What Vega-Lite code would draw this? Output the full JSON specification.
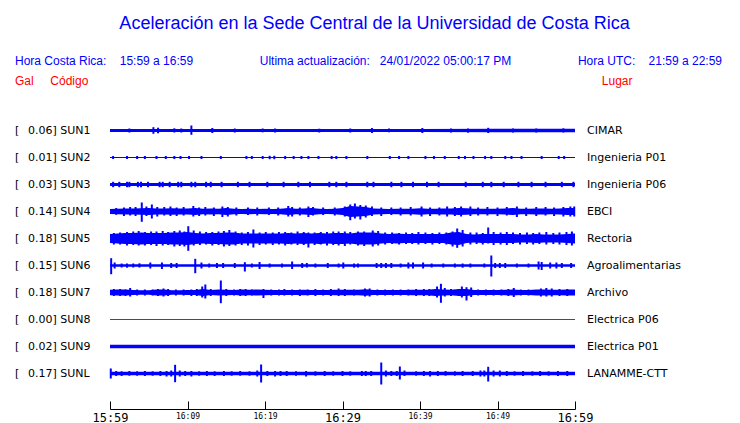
{
"$schema":"https://vega.github.io/schema/vega-lite/v6.json",
"padding":{"left":15,"top":15,"right":5,"bottom":0},
"background":"white",
"title":{"text":"Aceleración en la Sede Central de la Universidad de Costa Rica","font":"Liberation Sans","fontSize":18,"fontWeight":"normal","color":"#0000ff","anchor":"middle","frame":"bounds","dx":6,"offset":22},
"datasets":{
"st":[
{"s":"SUN1","gal":0.06,"lugar":"CIMAR"},
{"s":"SUN2","gal":0.01,"lugar":"Ingenieria P01"},
{"s":"SUN3","gal":0.03,"lugar":"Ingenieria P06"},
{"s":"SUN4","gal":0.14,"lugar":"EBCI"},
{"s":"SUN5","gal":0.18,"lugar":"Rectoria"},
{"s":"SUN6","gal":0.15,"lugar":"Agroalimentarias"},
{"s":"SUN7","gal":0.18,"lugar":"Archivo"},
{"s":"SUN8","gal":0.00,"lugar":"Electrica P06"},
{"s":"SUN9","gal":0.02,"lugar":"Electrica P01"},
{"s":"SUNL","gal":0.17,"lugar":"LANAMME-CTT"}
],
"tr":[
{"s":"SUN1","k":"e","t":0,"lo":-1.5,"hi":1.5},{"s":"SUN1","k":"e","t":10,"lo":-1.5,"hi":1.5},{"s":"SUN1","k":"e","t":20,"lo":-1.5,"hi":1.5},{"s":"SUN1","k":"e","t":30,"lo":-1.5,"hi":1.5},{"s":"SUN1","k":"e","t":40,"lo":-1.6,"hi":1.6},{"s":"SUN1","k":"e","t":50,"lo":-1.7,"hi":1.7},{"s":"SUN1","k":"e","t":60,"lo":-1.7,"hi":1.7},
{"s":"SUN1","k":"p","t":2.5,"lo":-2,"hi":2},{"s":"SUN1","k":"p","t":5.6,"lo":-3.3,"hi":3.3},{"s":"SUN1","k":"p","t":6.2,"lo":-2.8,"hi":2.8},{"s":"SUN1","k":"p","t":8.3,"lo":-2,"hi":2.2},{"s":"SUN1","k":"p","t":9.2,"lo":-2,"hi":2},{"s":"SUN1","k":"p","t":10.5,"lo":-4.3,"hi":5},{"s":"SUN1","k":"p","t":13.2,"lo":-2.5,"hi":2.5},{"s":"SUN1","k":"p","t":16.1,"lo":-2,"hi":2},{"s":"SUN1","k":"p","t":19.7,"lo":-1.8,"hi":2},{"s":"SUN1","k":"p","t":21.3,"lo":-2,"hi":2},{"s":"SUN1","k":"p","t":27,"lo":-2,"hi":1.8},{"s":"SUN1","k":"p","t":31,"lo":-2,"hi":2},{"s":"SUN1","k":"p","t":33.8,"lo":-2.5,"hi":2.5},{"s":"SUN1","k":"p","t":36,"lo":-1.8,"hi":2},{"s":"SUN1","k":"p","t":40.3,"lo":-2.5,"hi":2.5},{"s":"SUN1","k":"p","t":44,"lo":-2,"hi":2},{"s":"SUN1","k":"p","t":46.2,"lo":-2.2,"hi":2},{"s":"SUN1","k":"p","t":48.8,"lo":-2.5,"hi":2.7},{"s":"SUN1","k":"p","t":52,"lo":-2,"hi":2},{"s":"SUN1","k":"p","t":55,"lo":-2,"hi":2},{"s":"SUN1","k":"p","t":58.5,"lo":-2,"hi":2.2},
{"s":"SUN2","k":"e","t":0,"lo":-0.5,"hi":0.5},{"s":"SUN2","k":"e","t":60,"lo":-0.5,"hi":0.5},
{"s":"SUN2","k":"p","t":0.4,"lo":-1.5,"hi":1.5},{"s":"SUN2","k":"p","t":2.2,"lo":-1.5,"hi":1.5},{"s":"SUN2","k":"p","t":3.5,"lo":-1.5,"hi":1.5},{"s":"SUN2","k":"p","t":4.5,"lo":-1.5,"hi":1.5},{"s":"SUN2","k":"p","t":6,"lo":-1.5,"hi":1.5},{"s":"SUN2","k":"p","t":7.2,"lo":-1.5,"hi":1.5},{"s":"SUN2","k":"p","t":8.3,"lo":-1.5,"hi":1.5},{"s":"SUN2","k":"p","t":9.1,"lo":-1.5,"hi":1.5},{"s":"SUN2","k":"p","t":10.2,"lo":-1.5,"hi":1.5},{"s":"SUN2","k":"p","t":11.8,"lo":-1.5,"hi":1.5},{"s":"SUN2","k":"p","t":14.3,"lo":-1.5,"hi":1.5},{"s":"SUN2","k":"p","t":17.6,"lo":-1.5,"hi":1.5},{"s":"SUN2","k":"p","t":18.3,"lo":-1.5,"hi":1.5},{"s":"SUN2","k":"p","t":19.7,"lo":-1.5,"hi":1.5},{"s":"SUN2","k":"p","t":20.6,"lo":-1.7,"hi":1.7},{"s":"SUN2","k":"p","t":21.2,"lo":-1.7,"hi":1.7},{"s":"SUN2","k":"p","t":22.6,"lo":-1.5,"hi":1.5},{"s":"SUN2","k":"p","t":23.7,"lo":-1.5,"hi":1.5},{"s":"SUN2","k":"p","t":24.7,"lo":-1.5,"hi":1.5},{"s":"SUN2","k":"p","t":25.6,"lo":-1.5,"hi":1.5},{"s":"SUN2","k":"p","t":26.9,"lo":-1.5,"hi":1.5},{"s":"SUN2","k":"p","t":28.6,"lo":-1.5,"hi":1.5},{"s":"SUN2","k":"p","t":29.2,"lo":-1.5,"hi":1.5},{"s":"SUN2","k":"p","t":30.5,"lo":-1.5,"hi":1.5},{"s":"SUN2","k":"p","t":33.2,"lo":-1.5,"hi":1.5},{"s":"SUN2","k":"p","t":36.1,"lo":-1.5,"hi":1.5},{"s":"SUN2","k":"p","t":37.3,"lo":-1.5,"hi":1.5},{"s":"SUN2","k":"p","t":38.5,"lo":-1.5,"hi":1.5},{"s":"SUN2","k":"p","t":40.7,"lo":-1.5,"hi":1.5},{"s":"SUN2","k":"p","t":41.8,"lo":-1.5,"hi":1.5},{"s":"SUN2","k":"p","t":43.2,"lo":-1.5,"hi":1.5},{"s":"SUN2","k":"p","t":45,"lo":-1.5,"hi":1.5},{"s":"SUN2","k":"p","t":45.8,"lo":-1.5,"hi":1.5},{"s":"SUN2","k":"p","t":46.9,"lo":-1.5,"hi":1.5},{"s":"SUN2","k":"p","t":48.4,"lo":-1.5,"hi":1.5},{"s":"SUN2","k":"p","t":49.2,"lo":-1.5,"hi":1.5},{"s":"SUN2","k":"p","t":51,"lo":-1.5,"hi":1.5},{"s":"SUN2","k":"p","t":51.8,"lo":-1.5,"hi":1.5},{"s":"SUN2","k":"p","t":53.1,"lo":-1.5,"hi":1.5},{"s":"SUN2","k":"p","t":55.7,"lo":-1.5,"hi":1.5},{"s":"SUN2","k":"p","t":57.9,"lo":-1.5,"hi":1.5},{"s":"SUN2","k":"p","t":58.6,"lo":-1.5,"hi":1.5},
{"s":"SUN3","k":"e","t":0,"lo":-1.5,"hi":1.5},{"s":"SUN3","k":"e","t":60,"lo":-1.5,"hi":1.5},
{"s":"SUN3","k":"p","t":0.4,"lo":-2.7,"hi":2.7},{"s":"SUN3","k":"p","t":1.2,"lo":-2.7,"hi":2.7},{"s":"SUN3","k":"p","t":2.2,"lo":-2.7,"hi":2.7},{"s":"SUN3","k":"p","t":2.5,"lo":-2.7,"hi":2.7},{"s":"SUN3","k":"p","t":3.6,"lo":-2.7,"hi":2.7},{"s":"SUN3","k":"p","t":4,"lo":-2.7,"hi":2.7},{"s":"SUN3","k":"p","t":4.9,"lo":-2.7,"hi":2.7},{"s":"SUN3","k":"p","t":6.4,"lo":-2.7,"hi":2.7},{"s":"SUN3","k":"p","t":6.8,"lo":-2.7,"hi":2.7},{"s":"SUN3","k":"p","t":7.7,"lo":-2.7,"hi":2.7},{"s":"SUN3","k":"p","t":8.8,"lo":-2.7,"hi":2.7},{"s":"SUN3","k":"p","t":9.2,"lo":-2.7,"hi":2.7},{"s":"SUN3","k":"p","t":10.5,"lo":-2.7,"hi":2.7},{"s":"SUN3","k":"p","t":11,"lo":-2.7,"hi":2.7},{"s":"SUN3","k":"p","t":12.4,"lo":-2.7,"hi":2.7},{"s":"SUN3","k":"p","t":13,"lo":-2.7,"hi":2.7},{"s":"SUN3","k":"p","t":14.4,"lo":-2.7,"hi":2.7},{"s":"SUN3","k":"p","t":16.5,"lo":-2.7,"hi":2.7},{"s":"SUN3","k":"p","t":18,"lo":-2.7,"hi":2.7},{"s":"SUN3","k":"p","t":20.3,"lo":-2.7,"hi":2.7},{"s":"SUN3","k":"p","t":22.4,"lo":-2.7,"hi":2.7},{"s":"SUN3","k":"p","t":24.3,"lo":-2.7,"hi":2.7},{"s":"SUN3","k":"p","t":25.8,"lo":-2.7,"hi":2.7},{"s":"SUN3","k":"p","t":28.3,"lo":-2.7,"hi":2.7},{"s":"SUN3","k":"p","t":29.2,"lo":-2.7,"hi":2.7},{"s":"SUN3","k":"p","t":30.5,"lo":-2.7,"hi":2.7},{"s":"SUN3","k":"p","t":33.2,"lo":-2.7,"hi":2.7},{"s":"SUN3","k":"p","t":34,"lo":-2.7,"hi":2.7},{"s":"SUN3","k":"p","t":36.3,"lo":-2.7,"hi":2.7},{"s":"SUN3","k":"p","t":37.6,"lo":-2.7,"hi":2.7},{"s":"SUN3","k":"p","t":39.1,"lo":-2.7,"hi":2.7},{"s":"SUN3","k":"p","t":40.9,"lo":-2.7,"hi":2.7},{"s":"SUN3","k":"p","t":42.4,"lo":-2.7,"hi":2.7},{"s":"SUN3","k":"p","t":45.9,"lo":-2.7,"hi":2.7},{"s":"SUN3","k":"p","t":48.1,"lo":-2.7,"hi":2.7},{"s":"SUN3","k":"p","t":49.2,"lo":-2.7,"hi":2.7},{"s":"SUN3","k":"p","t":50.8,"lo":-2.7,"hi":2.7},{"s":"SUN3","k":"p","t":52.7,"lo":-2.7,"hi":2.7},{"s":"SUN3","k":"p","t":54.4,"lo":-2.7,"hi":2.7},{"s":"SUN3","k":"p","t":56.2,"lo":-2.7,"hi":2.7},{"s":"SUN3","k":"p","t":58.3,"lo":-2.7,"hi":2.7},{"s":"SUN3","k":"p","t":59.8,"lo":-2.7,"hi":2.7},
{"s":"SUN4","k":"e","t":0,"lo":-2.5,"hi":2.5},{"s":"SUN4","k":"e","t":1,"lo":-2.7,"hi":2.7},{"s":"SUN4","k":"e","t":2,"lo":-3,"hi":3},{"s":"SUN4","k":"e","t":3,"lo":-3,"hi":3},{"s":"SUN4","k":"e","t":4,"lo":-3.2,"hi":3.2},{"s":"SUN4","k":"e","t":5,"lo":-3.5,"hi":3.5},{"s":"SUN4","k":"e","t":6,"lo":-3,"hi":3},{"s":"SUN4","k":"e","t":7,"lo":-3,"hi":3},{"s":"SUN4","k":"e","t":8,"lo":-3.2,"hi":3.2},{"s":"SUN4","k":"e","t":9,"lo":-3,"hi":3},{"s":"SUN4","k":"e","t":10,"lo":-3,"hi":3},{"s":"SUN4","k":"e","t":11,"lo":-3.5,"hi":3.5},{"s":"SUN4","k":"e","t":12,"lo":-2.8,"hi":2.8},{"s":"SUN4","k":"e","t":13,"lo":-3,"hi":3},{"s":"SUN4","k":"e","t":14,"lo":-2.8,"hi":2.8},{"s":"SUN4","k":"e","t":15,"lo":-3.5,"hi":3.5},{"s":"SUN4","k":"e","t":16,"lo":-2.7,"hi":2.7},{"s":"SUN4","k":"e","t":17,"lo":-2.5,"hi":2.5},{"s":"SUN4","k":"e","t":18,"lo":-2.7,"hi":2.7},{"s":"SUN4","k":"e","t":19,"lo":-2.5,"hi":2.5},{"s":"SUN4","k":"e","t":20,"lo":-2.7,"hi":2.7},{"s":"SUN4","k":"e","t":21,"lo":-2.5,"hi":2.5},{"s":"SUN4","k":"e","t":22,"lo":-2.7,"hi":2.7},{"s":"SUN4","k":"e","t":23,"lo":-3.5,"hi":3.5},{"s":"SUN4","k":"e","t":24,"lo":-2.8,"hi":2.8},{"s":"SUN4","k":"e","t":25,"lo":-3,"hi":3},{"s":"SUN4","k":"e","t":26,"lo":-3.5,"hi":3.5},{"s":"SUN4","k":"e","t":27,"lo":-2.7,"hi":2.7},{"s":"SUN4","k":"e","t":28,"lo":-2.5,"hi":2.5},{"s":"SUN4","k":"e","t":29,"lo":-2.8,"hi":2.8},{"s":"SUN4","k":"e","t":30,"lo":-3.5,"hi":3.5},{"s":"SUN4","k":"e","t":31,"lo":-5.5,"hi":5.5},{"s":"SUN4","k":"e","t":32,"lo":-5,"hi":5},{"s":"SUN4","k":"e","t":33,"lo":-4.5,"hi":4.5},{"s":"SUN4","k":"e","t":34,"lo":-3,"hi":3},{"s":"SUN4","k":"e","t":35,"lo":-2.7,"hi":2.7},{"s":"SUN4","k":"e","t":36,"lo":-2.5,"hi":2.5},{"s":"SUN4","k":"e","t":37,"lo":-2.7,"hi":2.7},{"s":"SUN4","k":"e","t":38,"lo":-2.7,"hi":2.7},{"s":"SUN4","k":"e","t":39,"lo":-2.8,"hi":2.8},{"s":"SUN4","k":"e","t":40,"lo":-3.2,"hi":3.2},{"s":"SUN4","k":"e","t":41,"lo":-2.8,"hi":2.8},{"s":"SUN4","k":"e","t":42,"lo":-2.7,"hi":2.7},{"s":"SUN4","k":"e","t":43,"lo":-3,"hi":3},{"s":"SUN4","k":"e","t":44,"lo":-3,"hi":3},{"s":"SUN4","k":"e","t":45,"lo":-3.5,"hi":3.5},{"s":"SUN4","k":"e","t":46,"lo":-3.2,"hi":3.2},{"s":"SUN4","k":"e","t":47,"lo":-2.8,"hi":2.8},{"s":"SUN4","k":"e","t":48,"lo":-2.7,"hi":2.7},{"s":"SUN4","k":"e","t":49,"lo":-2.8,"hi":2.8},{"s":"SUN4","k":"e","t":50,"lo":-2.8,"hi":2.8},{"s":"SUN4","k":"e","t":51,"lo":-3,"hi":3},{"s":"SUN4","k":"e","t":52,"lo":-3.5,"hi":3.5},{"s":"SUN4","k":"e","t":53,"lo":-2.8,"hi":2.8},{"s":"SUN4","k":"e","t":54,"lo":-2.8,"hi":2.8},{"s":"SUN4","k":"e","t":55,"lo":-3,"hi":3},{"s":"SUN4","k":"e","t":56,"lo":-3,"hi":3},{"s":"SUN4","k":"e","t":57,"lo":-2.8,"hi":2.8},{"s":"SUN4","k":"e","t":58,"lo":-3,"hi":3},{"s":"SUN4","k":"e","t":59,"lo":-3.5,"hi":3.5},{"s":"SUN4","k":"e","t":60,"lo":-3.5,"hi":3.5},
{"s":"SUN4","k":"p","t":0.8,"lo":-3.3,"hi":3.5},{"s":"SUN4","k":"p","t":1.8,"lo":-4.5,"hi":4},{"s":"SUN4","k":"p","t":2.6,"lo":-4,"hi":4.5},{"s":"SUN4","k":"p","t":3.3,"lo":-4.5,"hi":4.5},{"s":"SUN4","k":"p","t":4.1,"lo":-10.3,"hi":9},{"s":"SUN4","k":"p","t":4.7,"lo":-4.5,"hi":5},{"s":"SUN4","k":"p","t":5.4,"lo":-7,"hi":7},{"s":"SUN4","k":"p","t":6.1,"lo":-5,"hi":4.5},{"s":"SUN4","k":"p","t":7,"lo":-4,"hi":4.5},{"s":"SUN4","k":"p","t":7.8,"lo":-4.5,"hi":5},{"s":"SUN4","k":"p","t":8.6,"lo":-4.5,"hi":4},{"s":"SUN4","k":"p","t":9.5,"lo":-4,"hi":4.5},{"s":"SUN4","k":"p","t":10.75,"lo":-5,"hi":5.5},{"s":"SUN4","k":"p","t":11.5,"lo":-4.5,"hi":4},{"s":"SUN4","k":"p","t":12.3,"lo":-4,"hi":4.5},{"s":"SUN4","k":"p","t":13.4,"lo":-4.5,"hi":4},{"s":"SUN4","k":"p","t":14.5,"lo":-5.5,"hi":5},{"s":"SUN4","k":"p","t":15.2,"lo":-5,"hi":4.5},{"s":"SUN4","k":"p","t":16.3,"lo":-4,"hi":4},{"s":"SUN4","k":"p","t":17.8,"lo":-3.5,"hi":4},{"s":"SUN4","k":"p","t":19,"lo":-4,"hi":4},{"s":"SUN4","k":"p","t":20.5,"lo":-3.5,"hi":4},{"s":"SUN4","k":"p","t":21.7,"lo":-4,"hi":4},{"s":"SUN4","k":"p","t":23,"lo":-5,"hi":5.5},{"s":"SUN4","k":"p","t":23.5,"lo":-5,"hi":4.5},{"s":"SUN4","k":"p","t":24.5,"lo":-4,"hi":4},{"s":"SUN4","k":"p","t":25.6,"lo":-5.5,"hi":5},{"s":"SUN4","k":"p","t":26.2,"lo":-4,"hi":4.5},{"s":"SUN4","k":"p","t":27.5,"lo":-3.5,"hi":4},{"s":"SUN4","k":"p","t":29,"lo":-4,"hi":4},{"s":"SUN4","k":"p","t":30.3,"lo":-5,"hi":5},{"s":"SUN4","k":"p","t":31,"lo":-8.7,"hi":7},{"s":"SUN4","k":"p","t":31.6,"lo":-7,"hi":8},{"s":"SUN4","k":"p","t":32.3,"lo":-8,"hi":6.5},{"s":"SUN4","k":"p","t":33,"lo":-6,"hi":6},{"s":"SUN4","k":"p","t":33.8,"lo":-4.5,"hi":5},{"s":"SUN4","k":"p","t":35,"lo":-4.5,"hi":4},{"s":"SUN4","k":"p","t":36.3,"lo":-3.5,"hi":4},{"s":"SUN4","k":"p","t":37.5,"lo":-4,"hi":4},{"s":"SUN4","k":"p","t":38.8,"lo":-4,"hi":4.5},{"s":"SUN4","k":"p","t":40.2,"lo":-5,"hi":5},{"s":"SUN4","k":"p","t":41.3,"lo":-4.5,"hi":4},{"s":"SUN4","k":"p","t":42.5,"lo":-4,"hi":4},{"s":"SUN4","k":"p","t":43.5,"lo":-5,"hi":5},{"s":"SUN4","k":"p","t":44.5,"lo":-4.5,"hi":4.5},{"s":"SUN4","k":"p","t":45.3,"lo":-5,"hi":5},{"s":"SUN4","k":"p","t":46.5,"lo":-4.5,"hi":5},{"s":"SUN4","k":"p","t":47.5,"lo":-4,"hi":4},{"s":"SUN4","k":"p","t":48.7,"lo":-4,"hi":4.5},{"s":"SUN4","k":"p","t":50,"lo":-4.5,"hi":4},{"s":"SUN4","k":"p","t":51.2,"lo":-4,"hi":4.5},{"s":"SUN4","k":"p","t":52.5,"lo":-5.5,"hi":5},{"s":"SUN4","k":"p","t":53.7,"lo":-4.5,"hi":4},{"s":"SUN4","k":"p","t":55,"lo":-4.5,"hi":4.5},{"s":"SUN4","k":"p","t":56.2,"lo":-4,"hi":4.5},{"s":"SUN4","k":"p","t":57.3,"lo":-4.5,"hi":4},{"s":"SUN4","k":"p","t":58.5,"lo":-5,"hi":4.5},{"s":"SUN4","k":"p","t":59.4,"lo":-5,"hi":5},{"s":"SUN4","k":"p","t":59.9,"lo":-5,"hi":5},
{"s":"SUN5","k":"e","t":0,"lo":-4.5,"hi":4.5},{"s":"SUN5","k":"e","t":1,"lo":-5,"hi":5},{"s":"SUN5","k":"e","t":2,"lo":-5.5,"hi":5.5},{"s":"SUN5","k":"e","t":3,"lo":-5.5,"hi":5.5},{"s":"SUN5","k":"e","t":4,"lo":-6,"hi":6},{"s":"SUN5","k":"e","t":5,"lo":-5.5,"hi":5.5},{"s":"SUN5","k":"e","t":6,"lo":-5.5,"hi":5.5},{"s":"SUN5","k":"e","t":7,"lo":-5.5,"hi":5.5},{"s":"SUN5","k":"e","t":8,"lo":-6,"hi":6},{"s":"SUN5","k":"e","t":9,"lo":-6,"hi":6},{"s":"SUN5","k":"e","t":10,"lo":-6.5,"hi":6.5},{"s":"SUN5","k":"e","t":11,"lo":-5.5,"hi":5.5},{"s":"SUN5","k":"e","t":12,"lo":-5,"hi":5},{"s":"SUN5","k":"e","t":13,"lo":-5.5,"hi":5.5},{"s":"SUN5","k":"e","t":14,"lo":-5.5,"hi":5.5},{"s":"SUN5","k":"e","t":15,"lo":-6,"hi":6},{"s":"SUN5","k":"e","t":16,"lo":-6,"hi":6},{"s":"SUN5","k":"e","t":17,"lo":-5,"hi":5},{"s":"SUN5","k":"e","t":18,"lo":-5,"hi":5},{"s":"SUN5","k":"e","t":19,"lo":-5,"hi":5},{"s":"SUN5","k":"e","t":20,"lo":-5,"hi":5},{"s":"SUN5","k":"e","t":21,"lo":-5,"hi":5},{"s":"SUN5","k":"e","t":22,"lo":-5,"hi":5},{"s":"SUN5","k":"e","t":23,"lo":-5.5,"hi":5.5},{"s":"SUN5","k":"e","t":24,"lo":-5,"hi":5},{"s":"SUN5","k":"e","t":25,"lo":-5.5,"hi":5.5},{"s":"SUN5","k":"e","t":26,"lo":-5,"hi":5},{"s":"SUN5","k":"e","t":27,"lo":-5.5,"hi":5.5},{"s":"SUN5","k":"e","t":28,"lo":-5,"hi":5},{"s":"SUN5","k":"e","t":29,"lo":-5.5,"hi":5.5},{"s":"SUN5","k":"e","t":30,"lo":-5.5,"hi":5.5},{"s":"SUN5","k":"e","t":31,"lo":-5,"hi":5},{"s":"SUN5","k":"e","t":32,"lo":-6,"hi":6},{"s":"SUN5","k":"e","t":33,"lo":-6,"hi":6},{"s":"SUN5","k":"e","t":34,"lo":-6,"hi":6},{"s":"SUN5","k":"e","t":35,"lo":-5,"hi":5},{"s":"SUN5","k":"e","t":36,"lo":-4.5,"hi":4.5},{"s":"SUN5","k":"e","t":37,"lo":-5,"hi":5},{"s":"SUN5","k":"e","t":38,"lo":-4.5,"hi":4.5},{"s":"SUN5","k":"e","t":39,"lo":-4.5,"hi":4.5},{"s":"SUN5","k":"e","t":40,"lo":-4.5,"hi":4.5},{"s":"SUN5","k":"e","t":41,"lo":-4.5,"hi":4.5},{"s":"SUN5","k":"e","t":42,"lo":-4.5,"hi":4.5},{"s":"SUN5","k":"e","t":43,"lo":-4.5,"hi":4.5},{"s":"SUN5","k":"e","t":44,"lo":-6,"hi":6},{"s":"SUN5","k":"e","t":45,"lo":-6.5,"hi":6.5},{"s":"SUN5","k":"e","t":46,"lo":-4.5,"hi":4.5},{"s":"SUN5","k":"e","t":47,"lo":-4,"hi":4},{"s":"SUN5","k":"e","t":48,"lo":-4.5,"hi":4.5},{"s":"SUN5","k":"e","t":49,"lo":-4.5,"hi":4.5},{"s":"SUN5","k":"e","t":50,"lo":-4.5,"hi":4.5},{"s":"SUN5","k":"e","t":51,"lo":-4.5,"hi":4.5},{"s":"SUN5","k":"e","t":52,"lo":-4.5,"hi":4.5},{"s":"SUN5","k":"e","t":53,"lo":-4,"hi":4},{"s":"SUN5","k":"e","t":54,"lo":-4,"hi":4},{"s":"SUN5","k":"e","t":55,"lo":-4.5,"hi":4.5},{"s":"SUN5","k":"e","t":56,"lo":-4,"hi":4},{"s":"SUN5","k":"e","t":57,"lo":-4,"hi":4},{"s":"SUN5","k":"e","t":58,"lo":-4,"hi":4},{"s":"SUN5","k":"e","t":59,"lo":-4.5,"hi":4.5},{"s":"SUN5","k":"e","t":60,"lo":-5,"hi":5},
{"s":"SUN5","k":"p","t":0.5,"lo":-6,"hi":5.5},{"s":"SUN5","k":"p","t":1.3,"lo":-6,"hi":6},{"s":"SUN5","k":"p","t":2.2,"lo":-7,"hi":6.5},{"s":"SUN5","k":"p","t":3,"lo":-6.5,"hi":7},{"s":"SUN5","k":"p","t":3.7,"lo":-7,"hi":7.5},{"s":"SUN5","k":"p","t":4.5,"lo":-7,"hi":6.5},{"s":"SUN5","k":"p","t":5.3,"lo":-6.5,"hi":7},{"s":"SUN5","k":"p","t":6,"lo":-7.5,"hi":7},{"s":"SUN5","k":"p","t":6.8,"lo":-7,"hi":7.5},{"s":"SUN5","k":"p","t":7.5,"lo":-6.5,"hi":6.5},{"s":"SUN5","k":"p","t":8.3,"lo":-8,"hi":7.5},{"s":"SUN5","k":"p","t":9,"lo":-7.5,"hi":8},{"s":"SUN5","k":"p","t":9.6,"lo":-8,"hi":7},{"s":"SUN5","k":"p","t":10.1,"lo":-12.3,"hi":12.3},{"s":"SUN5","k":"p","t":10.8,"lo":-7,"hi":8},{"s":"SUN5","k":"p","t":11.6,"lo":-6.5,"hi":7},{"s":"SUN5","k":"p","t":12.4,"lo":-6,"hi":6.5},{"s":"SUN5","k":"p","t":13.2,"lo":-7,"hi":6.5},{"s":"SUN5","k":"p","t":14,"lo":-6.5,"hi":7},{"s":"SUN5","k":"p","t":14.7,"lo":-8,"hi":7.5},{"s":"SUN5","k":"p","t":15.4,"lo":-7.5,"hi":8.5},{"s":"SUN5","k":"p","t":16.2,"lo":-7,"hi":7},{"s":"SUN5","k":"p","t":17,"lo":-6.5,"hi":6},{"s":"SUN5","k":"p","t":17.8,"lo":-7,"hi":6.5},{"s":"SUN5","k":"p","t":18.5,"lo":-9,"hi":9},{"s":"SUN5","k":"p","t":19.3,"lo":-6.5,"hi":6},{"s":"SUN5","k":"p","t":20.1,"lo":-6,"hi":6.5},{"s":"SUN5","k":"p","t":21,"lo":-6.5,"hi":6},{"s":"SUN5","k":"p","t":21.8,"lo":-6,"hi":6.5},{"s":"SUN5","k":"p","t":22.6,"lo":-7,"hi":6.5},{"s":"SUN5","k":"p","t":23.4,"lo":-6,"hi":6},{"s":"SUN5","k":"p","t":24.2,"lo":-6.5,"hi":7},{"s":"SUN5","k":"p","t":25,"lo":-6.5,"hi":6.5},{"s":"SUN5","k":"p","t":25.6,"lo":-9,"hi":6},{"s":"SUN5","k":"p","t":26.4,"lo":-6.5,"hi":6},{"s":"SUN5","k":"p","t":27.2,"lo":-6,"hi":6.5},{"s":"SUN5","k":"p","t":28,"lo":-7,"hi":6.5},{"s":"SUN5","k":"p","t":28.8,"lo":-6.5,"hi":7},{"s":"SUN5","k":"p","t":29.5,"lo":-7,"hi":7},{"s":"SUN5","k":"p","t":30.3,"lo":-7.5,"hi":7},{"s":"SUN5","k":"p","t":31,"lo":-6,"hi":6.5},{"s":"SUN5","k":"p","t":32,"lo":-7,"hi":7},{"s":"SUN5","k":"p","t":32.8,"lo":-7.5,"hi":7},{"s":"SUN5","k":"p","t":33.9,"lo":-8,"hi":8},{"s":"SUN5","k":"p","t":34.6,"lo":-7,"hi":7.5},{"s":"SUN5","k":"p","t":35.5,"lo":-6,"hi":6},{"s":"SUN5","k":"p","t":36.4,"lo":-5.5,"hi":6},{"s":"SUN5","k":"p","t":37.3,"lo":-6,"hi":5.5},{"s":"SUN5","k":"p","t":38.2,"lo":-5.5,"hi":6},{"s":"SUN5","k":"p","t":39,"lo":-5.5,"hi":5.5},{"s":"SUN5","k":"p","t":39.8,"lo":-6,"hi":6.5},{"s":"SUN5","k":"p","t":40.7,"lo":-5.5,"hi":6},{"s":"SUN5","k":"p","t":41.6,"lo":-6,"hi":5.5},{"s":"SUN5","k":"p","t":42.5,"lo":-5.5,"hi":6},{"s":"SUN5","k":"p","t":43.4,"lo":-6,"hi":6},{"s":"SUN5","k":"p","t":44.2,"lo":-8,"hi":7},{"s":"SUN5","k":"p","t":44.8,"lo":-9.3,"hi":10},{"s":"SUN5","k":"p","t":45.5,"lo":-8,"hi":8.5},{"s":"SUN5","k":"p","t":46.5,"lo":-6,"hi":6},{"s":"SUN5","k":"p","t":47.3,"lo":-5.5,"hi":6},{"s":"SUN5","k":"p","t":48.1,"lo":-6,"hi":5.5},{"s":"SUN5","k":"p","t":48.8,"lo":-5,"hi":11},{"s":"SUN5","k":"p","t":49.5,"lo":-6.5,"hi":6.5},{"s":"SUN5","k":"p","t":50.4,"lo":-6,"hi":6},{"s":"SUN5","k":"p","t":51.2,"lo":-6.5,"hi":6.5},{"s":"SUN5","k":"p","t":52,"lo":-5.5,"hi":6},{"s":"SUN5","k":"p","t":52.9,"lo":-6,"hi":5.5},{"s":"SUN5","k":"p","t":53.8,"lo":-5.5,"hi":6},{"s":"SUN5","k":"p","t":54.6,"lo":-6,"hi":5.5},{"s":"SUN5","k":"p","t":55.4,"lo":-5.5,"hi":6},{"s":"SUN5","k":"p","t":56.3,"lo":-6,"hi":6.5},{"s":"SUN5","k":"p","t":57.2,"lo":-5.5,"hi":5.5},{"s":"SUN5","k":"p","t":58,"lo":-6,"hi":6},{"s":"SUN5","k":"p","t":58.9,"lo":-6.5,"hi":6.5},{"s":"SUN5","k":"p","t":59.6,"lo":-7,"hi":7},
{"s":"SUN6","k":"e","t":0,"lo":-1.3,"hi":1.3},{"s":"SUN6","k":"e","t":60,"lo":-1.3,"hi":1.3},
{"s":"SUN6","k":"p","t":0.15,"lo":-8.7,"hi":7.3},{"s":"SUN6","k":"p","t":0.6,"lo":-3,"hi":3},{"s":"SUN6","k":"p","t":1.5,"lo":-2,"hi":2},{"s":"SUN6","k":"p","t":2.2,"lo":-2.2,"hi":2},{"s":"SUN6","k":"p","t":3,"lo":-2,"hi":2},{"s":"SUN6","k":"p","t":3.8,"lo":-2,"hi":2.2},{"s":"SUN6","k":"p","t":5.2,"lo":-3,"hi":3},{"s":"SUN6","k":"p","t":6.7,"lo":-3.5,"hi":3},{"s":"SUN6","k":"p","t":7.9,"lo":-2.5,"hi":2.5},{"s":"SUN6","k":"p","t":8.6,"lo":-2.5,"hi":2.5},{"s":"SUN6","k":"p","t":11,"lo":-7.7,"hi":6.7},{"s":"SUN6","k":"p","t":11.8,"lo":-3,"hi":3},{"s":"SUN6","k":"p","t":12.8,"lo":-2,"hi":2},{"s":"SUN6","k":"p","t":13.8,"lo":-2.5,"hi":2.5},{"s":"SUN6","k":"p","t":14.6,"lo":-2.5,"hi":2.5},{"s":"SUN6","k":"p","t":16.1,"lo":-2.5,"hi":2.5},{"s":"SUN6","k":"p","t":17.4,"lo":-6,"hi":3.3},{"s":"SUN6","k":"p","t":18.3,"lo":-2,"hi":2},{"s":"SUN6","k":"p","t":19.3,"lo":-3.5,"hi":3.5},{"s":"SUN6","k":"p","t":20.6,"lo":-2,"hi":2},{"s":"SUN6","k":"p","t":22.2,"lo":-2,"hi":2},{"s":"SUN6","k":"p","t":23.5,"lo":-3.5,"hi":4},{"s":"SUN6","k":"p","t":24.8,"lo":-2.5,"hi":2.5},{"s":"SUN6","k":"p","t":25.4,"lo":-2,"hi":2.5},{"s":"SUN6","k":"p","t":26.5,"lo":-2,"hi":2},{"s":"SUN6","k":"p","t":28.1,"lo":-2.5,"hi":2.5},{"s":"SUN6","k":"p","t":29.5,"lo":-2,"hi":2},{"s":"SUN6","k":"p","t":30.1,"lo":-3,"hi":3},{"s":"SUN6","k":"p","t":31.5,"lo":-2.2,"hi":2},{"s":"SUN6","k":"p","t":32,"lo":-2,"hi":2},{"s":"SUN6","k":"p","t":34.4,"lo":-2.5,"hi":2.5},{"s":"SUN6","k":"p","t":35,"lo":-2.5,"hi":2.5},{"s":"SUN6","k":"p","t":35.6,"lo":-2.5,"hi":2.5},{"s":"SUN6","k":"p","t":36.3,"lo":-2.5,"hi":2.5},{"s":"SUN6","k":"p","t":37.5,"lo":-2,"hi":2},{"s":"SUN6","k":"p","t":38.5,"lo":-3,"hi":3},{"s":"SUN6","k":"p","t":39.1,"lo":-3,"hi":3},{"s":"SUN6","k":"p","t":40.4,"lo":-3,"hi":3},{"s":"SUN6","k":"p","t":41.5,"lo":-2,"hi":2},{"s":"SUN6","k":"p","t":43,"lo":-2,"hi":2},{"s":"SUN6","k":"p","t":44.5,"lo":-2,"hi":2},{"s":"SUN6","k":"p","t":45.5,"lo":-2.2,"hi":2},{"s":"SUN6","k":"p","t":46.5,"lo":-2,"hi":2},{"s":"SUN6","k":"p","t":48.3,"lo":-2,"hi":2},{"s":"SUN6","k":"p","t":49.2,"lo":-11,"hi":10},{"s":"SUN6","k":"p","t":49.7,"lo":-2.5,"hi":2.5},{"s":"SUN6","k":"p","t":50.3,"lo":-2.5,"hi":2.5},{"s":"SUN6","k":"p","t":51,"lo":-2.5,"hi":2.5},{"s":"SUN6","k":"p","t":52.5,"lo":-2,"hi":2},{"s":"SUN6","k":"p","t":54,"lo":-2,"hi":2},{"s":"SUN6","k":"p","t":55.3,"lo":-4,"hi":4},{"s":"SUN6","k":"p","t":55.7,"lo":-4.5,"hi":3.5},{"s":"SUN6","k":"p","t":56.8,"lo":-3,"hi":3},{"s":"SUN6","k":"p","t":57.6,"lo":-3,"hi":3},{"s":"SUN6","k":"p","t":58.3,"lo":-2.5,"hi":2.5},{"s":"SUN6","k":"p","t":59.5,"lo":-2.5,"hi":2.5},
{"s":"SUN7","k":"e","t":0,"lo":-2.8,"hi":2.8},{"s":"SUN7","k":"e","t":1,"lo":-3,"hi":3},{"s":"SUN7","k":"e","t":2,"lo":-3,"hi":3},{"s":"SUN7","k":"e","t":3,"lo":-2.5,"hi":2.5},{"s":"SUN7","k":"e","t":4,"lo":-2.3,"hi":2.3},{"s":"SUN7","k":"e","t":5,"lo":-2.3,"hi":2.3},{"s":"SUN7","k":"e","t":6,"lo":-3,"hi":3},{"s":"SUN7","k":"e","t":7,"lo":-3,"hi":3},{"s":"SUN7","k":"e","t":8,"lo":-2.3,"hi":2.3},{"s":"SUN7","k":"e","t":9,"lo":-2.3,"hi":2.3},{"s":"SUN7","k":"e","t":10,"lo":-2.5,"hi":2.5},{"s":"SUN7","k":"e","t":11,"lo":-2.5,"hi":2.5},{"s":"SUN7","k":"e","t":12,"lo":-3.5,"hi":3.5},{"s":"SUN7","k":"e","t":13,"lo":-2.5,"hi":2.5},{"s":"SUN7","k":"e","t":14,"lo":-3,"hi":3},{"s":"SUN7","k":"e","t":15,"lo":-2.8,"hi":2.8},{"s":"SUN7","k":"e","t":16,"lo":-2.5,"hi":2.5},{"s":"SUN7","k":"e","t":17,"lo":-3,"hi":3},{"s":"SUN7","k":"e","t":18,"lo":-2.8,"hi":2.8},{"s":"SUN7","k":"e","t":19,"lo":-3,"hi":3},{"s":"SUN7","k":"e","t":20,"lo":-2.8,"hi":2.8},{"s":"SUN7","k":"e","t":21,"lo":-2.5,"hi":2.5},{"s":"SUN7","k":"e","t":22,"lo":-2.5,"hi":2.5},{"s":"SUN7","k":"e","t":23,"lo":-2.5,"hi":2.5},{"s":"SUN7","k":"e","t":24,"lo":-2.5,"hi":2.5},{"s":"SUN7","k":"e","t":25,"lo":-2.8,"hi":2.8},{"s":"SUN7","k":"e","t":26,"lo":-2.5,"hi":2.5},{"s":"SUN7","k":"e","t":27,"lo":-2.5,"hi":2.5},{"s":"SUN7","k":"e","t":28,"lo":-2.5,"hi":2.5},{"s":"SUN7","k":"e","t":29,"lo":-2.8,"hi":2.8},{"s":"SUN7","k":"e","t":30,"lo":-2.8,"hi":2.8},{"s":"SUN7","k":"e","t":31,"lo":-2.8,"hi":2.8},{"s":"SUN7","k":"e","t":32,"lo":-2.8,"hi":2.8},{"s":"SUN7","k":"e","t":33,"lo":-3.2,"hi":3.2},{"s":"SUN7","k":"e","t":34,"lo":-2.5,"hi":2.5},{"s":"SUN7","k":"e","t":35,"lo":-2.5,"hi":2.5},{"s":"SUN7","k":"e","t":36,"lo":-2.5,"hi":2.5},{"s":"SUN7","k":"e","t":37,"lo":-2.5,"hi":2.5},{"s":"SUN7","k":"e","t":38,"lo":-2.5,"hi":2.5},{"s":"SUN7","k":"e","t":39,"lo":-2.8,"hi":2.8},{"s":"SUN7","k":"e","t":40,"lo":-2.8,"hi":2.8},{"s":"SUN7","k":"e","t":41,"lo":-2.8,"hi":2.8},{"s":"SUN7","k":"e","t":42,"lo":-3.5,"hi":3.5},{"s":"SUN7","k":"e","t":43,"lo":-3,"hi":3},{"s":"SUN7","k":"e","t":44,"lo":-2.8,"hi":2.8},{"s":"SUN7","k":"e","t":45,"lo":-3.5,"hi":3.5},{"s":"SUN7","k":"e","t":46,"lo":-3.5,"hi":3.5},{"s":"SUN7","k":"e","t":47,"lo":-2.5,"hi":2.5},{"s":"SUN7","k":"e","t":48,"lo":-2.5,"hi":2.5},{"s":"SUN7","k":"e","t":49,"lo":-2.5,"hi":2.5},{"s":"SUN7","k":"e","t":50,"lo":-2.5,"hi":2.5},{"s":"SUN7","k":"e","t":51,"lo":-2.8,"hi":2.8},{"s":"SUN7","k":"e","t":52,"lo":-3,"hi":3},{"s":"SUN7","k":"e","t":53,"lo":-2.5,"hi":2.5},{"s":"SUN7","k":"e","t":54,"lo":-2.5,"hi":2.5},{"s":"SUN7","k":"e","t":55,"lo":-3,"hi":3},{"s":"SUN7","k":"e","t":56,"lo":-3,"hi":3},{"s":"SUN7","k":"e","t":57,"lo":-2.8,"hi":2.8},{"s":"SUN7","k":"e","t":58,"lo":-2.8,"hi":2.8},{"s":"SUN7","k":"e","t":59,"lo":-3,"hi":3},{"s":"SUN7","k":"e","t":60,"lo":-3,"hi":3},
{"s":"SUN7","k":"p","t":0.5,"lo":-3.5,"hi":3.5},{"s":"SUN7","k":"p","t":1.3,"lo":-3.5,"hi":3.5},{"s":"SUN7","k":"p","t":2,"lo":-3.5,"hi":3},{"s":"SUN7","k":"p","t":2.6,"lo":-4,"hi":4.5},{"s":"SUN7","k":"p","t":3.5,"lo":-3,"hi":3},{"s":"SUN7","k":"p","t":4.5,"lo":-3,"hi":3},{"s":"SUN7","k":"p","t":5.5,"lo":-3,"hi":3},{"s":"SUN7","k":"p","t":6.2,"lo":-3.5,"hi":3.5},{"s":"SUN7","k":"p","t":6.9,"lo":-4,"hi":4},{"s":"SUN7","k":"p","t":7.5,"lo":-3.5,"hi":3.5},{"s":"SUN7","k":"p","t":8.5,"lo":-3,"hi":3},{"s":"SUN7","k":"p","t":9.5,"lo":-3,"hi":3},{"s":"SUN7","k":"p","t":10.5,"lo":-3.5,"hi":3},{"s":"SUN7","k":"p","t":11.2,"lo":-3.5,"hi":3.5},{"s":"SUN7","k":"p","t":11.9,"lo":-5,"hi":6},{"s":"SUN7","k":"p","t":12.3,"lo":-6,"hi":8},{"s":"SUN7","k":"p","t":13,"lo":-3.5,"hi":3.5},{"s":"SUN7","k":"p","t":14.3,"lo":-10.7,"hi":12},{"s":"SUN7","k":"p","t":15,"lo":-3.5,"hi":3.5},{"s":"SUN7","k":"p","t":16,"lo":-3,"hi":3},{"s":"SUN7","k":"p","t":16.8,"lo":-3.5,"hi":3.5},{"s":"SUN7","k":"p","t":17.5,"lo":-3.5,"hi":3.5},{"s":"SUN7","k":"p","t":18.3,"lo":-3,"hi":3},{"s":"SUN7","k":"p","t":19.8,"lo":-5.5,"hi":3.5},{"s":"SUN7","k":"p","t":20.8,"lo":-3,"hi":3},{"s":"SUN7","k":"p","t":21.8,"lo":-3,"hi":3},{"s":"SUN7","k":"p","t":22.5,"lo":-3,"hi":3.5},{"s":"SUN7","k":"p","t":23.5,"lo":-3,"hi":3},{"s":"SUN7","k":"p","t":24.5,"lo":-3.5,"hi":3},{"s":"SUN7","k":"p","t":25.5,"lo":-3,"hi":3},{"s":"SUN7","k":"p","t":26.5,"lo":-3.5,"hi":3.5},{"s":"SUN7","k":"p","t":27.5,"lo":-3,"hi":3},{"s":"SUN7","k":"p","t":28.5,"lo":-3.5,"hi":3.5},{"s":"SUN7","k":"p","t":29.5,"lo":-3.5,"hi":4},{"s":"SUN7","k":"p","t":30.3,"lo":-3.5,"hi":3.5},{"s":"SUN7","k":"p","t":31.5,"lo":-3,"hi":3},{"s":"SUN7","k":"p","t":32.9,"lo":-4,"hi":4},{"s":"SUN7","k":"p","t":33.5,"lo":-4,"hi":4},{"s":"SUN7","k":"p","t":34.5,"lo":-3,"hi":3},{"s":"SUN7","k":"p","t":35.5,"lo":-3,"hi":3},{"s":"SUN7","k":"p","t":36.5,"lo":-3,"hi":3},{"s":"SUN7","k":"p","t":37.5,"lo":-3,"hi":3},{"s":"SUN7","k":"p","t":38.5,"lo":-3,"hi":3},{"s":"SUN7","k":"p","t":39.5,"lo":-3.5,"hi":3.5},{"s":"SUN7","k":"p","t":40.5,"lo":-3.5,"hi":3.5},{"s":"SUN7","k":"p","t":41.2,"lo":-3.5,"hi":3.5},{"s":"SUN7","k":"p","t":42.2,"lo":-5,"hi":6},{"s":"SUN7","k":"p","t":42.7,"lo":-10.3,"hi":8.7},{"s":"SUN7","k":"p","t":43.2,"lo":-4,"hi":4.5},{"s":"SUN7","k":"p","t":44,"lo":-3.5,"hi":3.5},{"s":"SUN7","k":"p","t":45.4,"lo":-5,"hi":6},{"s":"SUN7","k":"p","t":46,"lo":-8,"hi":5.3},{"s":"SUN7","k":"p","t":46.6,"lo":-4.5,"hi":5},{"s":"SUN7","k":"p","t":47.5,"lo":-3,"hi":3},{"s":"SUN7","k":"p","t":48.5,"lo":-3,"hi":3},{"s":"SUN7","k":"p","t":49.5,"lo":-3,"hi":3},{"s":"SUN7","k":"p","t":50.5,"lo":-3,"hi":3},{"s":"SUN7","k":"p","t":51.4,"lo":-3.5,"hi":3.5},{"s":"SUN7","k":"p","t":52.1,"lo":-4.5,"hi":4.5},{"s":"SUN7","k":"p","t":53,"lo":-3,"hi":3},{"s":"SUN7","k":"p","t":54,"lo":-3,"hi":3},{"s":"SUN7","k":"p","t":55.6,"lo":-4,"hi":4},{"s":"SUN7","k":"p","t":56.3,"lo":-4,"hi":4.5},{"s":"SUN7","k":"p","t":57,"lo":-4,"hi":4},{"s":"SUN7","k":"p","t":58,"lo":-3.5,"hi":3.5},{"s":"SUN7","k":"p","t":59,"lo":-3.5,"hi":3.5},
{"s":"SUN8","k":"f","t":0,"lo":0,"hi":0},{"s":"SUN8","k":"f","t":60,"lo":0,"hi":0},
{"s":"SUN9","k":"e","t":0,"lo":-1.7,"hi":1.7},{"s":"SUN9","k":"e","t":60,"lo":-1.7,"hi":1.7},
{"s":"SUNL","k":"e","t":0,"lo":-1.7,"hi":1.7},{"s":"SUNL","k":"e","t":60,"lo":-1.7,"hi":1.7},
{"s":"SUNL","k":"p","t":0.1,"lo":-5,"hi":5},{"s":"SUNL","k":"p","t":0.8,"lo":-2.5,"hi":2.5},{"s":"SUNL","k":"p","t":1.5,"lo":-2.5,"hi":2.2},{"s":"SUNL","k":"p","t":2.5,"lo":-2.2,"hi":2.5},{"s":"SUNL","k":"p","t":3.5,"lo":-2.2,"hi":2.2},{"s":"SUNL","k":"p","t":4.5,"lo":-2.5,"hi":2.5},{"s":"SUNL","k":"p","t":5.5,"lo":-2.2,"hi":2.2},{"s":"SUNL","k":"p","t":6.5,"lo":-2.5,"hi":2.5},{"s":"SUNL","k":"p","t":7.3,"lo":-3,"hi":2.5},{"s":"SUNL","k":"p","t":7.9,"lo":-3,"hi":3},{"s":"SUNL","k":"p","t":8.4,"lo":-8.7,"hi":8.7},{"s":"SUNL","k":"p","t":9,"lo":-3,"hi":3},{"s":"SUNL","k":"p","t":9.7,"lo":-2.5,"hi":2.5},{"s":"SUNL","k":"p","t":10.5,"lo":-3,"hi":2.5},{"s":"SUNL","k":"p","t":11.5,"lo":-2.2,"hi":2.2},{"s":"SUNL","k":"p","t":12.5,"lo":-2.5,"hi":2.5},{"s":"SUNL","k":"p","t":13.5,"lo":-2.5,"hi":2.2},{"s":"SUNL","k":"p","t":14.7,"lo":-2.5,"hi":2.5},{"s":"SUNL","k":"p","t":15.7,"lo":-2.2,"hi":2.2},{"s":"SUNL","k":"p","t":16.8,"lo":-2.2,"hi":2.5},{"s":"SUNL","k":"p","t":18,"lo":-2.2,"hi":2.2},{"s":"SUNL","k":"p","t":19,"lo":-3,"hi":3},{"s":"SUNL","k":"p","t":19.5,"lo":-9,"hi":9},{"s":"SUNL","k":"p","t":20.3,"lo":-2.5,"hi":2.5},{"s":"SUNL","k":"p","t":21.3,"lo":-3,"hi":2.5},{"s":"SUNL","k":"p","t":22,"lo":-2.5,"hi":2.5},{"s":"SUNL","k":"p","t":22.8,"lo":-2.5,"hi":2.5},{"s":"SUNL","k":"p","t":24,"lo":-2.2,"hi":2.2},{"s":"SUNL","k":"p","t":25.3,"lo":-3,"hi":2.5},{"s":"SUNL","k":"p","t":26.5,"lo":-2.2,"hi":2.2},{"s":"SUNL","k":"p","t":27.7,"lo":-2.5,"hi":2.5},{"s":"SUNL","k":"p","t":28.8,"lo":-2.2,"hi":2.2},{"s":"SUNL","k":"p","t":30,"lo":-2.5,"hi":2.5},{"s":"SUNL","k":"p","t":31,"lo":-2.2,"hi":2.2},{"s":"SUNL","k":"p","t":32.5,"lo":-2.5,"hi":2.5},{"s":"SUNL","k":"p","t":33,"lo":-2.5,"hi":2.5},{"s":"SUNL","k":"p","t":33.7,"lo":-2.5,"hi":2.5},{"s":"SUNL","k":"p","t":35,"lo":-11,"hi":11},{"s":"SUNL","k":"p","t":35.6,"lo":-3,"hi":3},{"s":"SUNL","k":"p","t":36.3,"lo":-2.5,"hi":2.5},{"s":"SUNL","k":"p","t":37,"lo":-2.5,"hi":2.5},{"s":"SUNL","k":"p","t":37.4,"lo":-6,"hi":7},{"s":"SUNL","k":"p","t":38,"lo":-2.5,"hi":3},{"s":"SUNL","k":"p","t":39.5,"lo":-2.2,"hi":2.2},{"s":"SUNL","k":"p","t":40.5,"lo":-2.5,"hi":2.5},{"s":"SUNL","k":"p","t":41.3,"lo":-3,"hi":2.5},{"s":"SUNL","k":"p","t":42.3,"lo":-2.5,"hi":2.5},{"s":"SUNL","k":"p","t":43.3,"lo":-2.2,"hi":2.5},{"s":"SUNL","k":"p","t":44.5,"lo":-2.2,"hi":2.2},{"s":"SUNL","k":"p","t":45.5,"lo":-2.5,"hi":2.5},{"s":"SUNL","k":"p","t":46.8,"lo":-2.5,"hi":2.5},{"s":"SUNL","k":"p","t":47.8,"lo":-3,"hi":3},{"s":"SUNL","k":"p","t":48.3,"lo":-3,"hi":3},{"s":"SUNL","k":"p","t":48.8,"lo":-8,"hi":6.7},{"s":"SUNL","k":"p","t":49.5,"lo":-3,"hi":3},{"s":"SUNL","k":"p","t":50.3,"lo":-3,"hi":3},{"s":"SUNL","k":"p","t":51.2,"lo":-2.5,"hi":2.5},{"s":"SUNL","k":"p","t":52.2,"lo":-2.2,"hi":2.2},{"s":"SUNL","k":"p","t":53.3,"lo":-2.5,"hi":2.5},{"s":"SUNL","k":"p","t":54.5,"lo":-2.2,"hi":2.2},{"s":"SUNL","k":"p","t":55.5,"lo":-2.5,"hi":2.5},{"s":"SUNL","k":"p","t":56.6,"lo":-2.2,"hi":2.2},{"s":"SUNL","k":"p","t":57.8,"lo":-2.5,"hi":2.5},{"s":"SUNL","k":"p","t":59,"lo":-2.5,"hi":2.5}
]},
"vconcat":[{
"data":{"name":"tr"},
"transform":[
{"lookup":"s","from":{"data":{"name":"st"},"key":"s","fields":["gal","lugar"]}},
{"calculate":"format(datum.gal,'.2f') + '] ' + datum.s","as":"lab"}
],
"title":{"text":"Hora Costa Rica:\u00a0\u00a0\u00a0\u00a015:59 a 16:59\u00a0\u00a0\u00a0\u00a0\u00a0\u00a0\u00a0\u00a0\u00a0\u00a0\u00a0\u00a0\u00a0\u00a0\u00a0\u00a0\u00a0\u00a0\u00a0\u00a0Ultima actualización:\u00a0\u00a0\u00a024/01/2022 05:00:17 PM\u00a0\u00a0\u00a0\u00a0\u00a0\u00a0\u00a0\u00a0\u00a0\u00a0\u00a0\u00a0\u00a0\u00a0\u00a0\u00a0\u00a0\u00a0\u00a0\u00a0Hora UTC:\u00a0\u00a0\u00a0\u00a021:59 a 22:59",
"subtitle":"Gal\u00a0\u00a0\u00a0\u00a0\u00a0Código\u00a0\u00a0\u00a0\u00a0\u00a0\u00a0\u00a0\u00a0\u00a0\u00a0\u00a0\u00a0\u00a0\u00a0\u00a0\u00a0\u00a0\u00a0\u00a0\u00a0\u00a0\u00a0\u00a0\u00a0\u00a0\u00a0\u00a0\u00a0\u00a0\u00a0\u00a0\u00a0\u00a0\u00a0\u00a0\u00a0\u00a0\u00a0\u00a0\u00a0\u00a0\u00a0\u00a0\u00a0\u00a0\u00a0\u00a0\u00a0\u00a0\u00a0\u00a0\u00a0\u00a0\u00a0\u00a0\u00a0\u00a0\u00a0\u00a0\u00a0\u00a0\u00a0\u00a0\u00a0\u00a0\u00a0\u00a0\u00a0\u00a0\u00a0\u00a0\u00a0\u00a0\u00a0\u00a0\u00a0\u00a0\u00a0\u00a0\u00a0\u00a0\u00a0\u00a0\u00a0\u00a0\u00a0\u00a0\u00a0\u00a0\u00a0\u00a0\u00a0\u00a0\u00a0\u00a0\u00a0\u00a0\u00a0\u00a0\u00a0\u00a0\u00a0\u00a0\u00a0\u00a0\u00a0\u00a0\u00a0\u00a0\u00a0\u00a0\u00a0\u00a0\u00a0\u00a0\u00a0\u00a0\u00a0\u00a0\u00a0\u00a0\u00a0\u00a0\u00a0\u00a0\u00a0\u00a0\u00a0\u00a0\u00a0\u00a0\u00a0\u00a0\u00a0\u00a0\u00a0\u00a0\u00a0\u00a0\u00a0\u00a0\u00a0\u00a0\u00a0\u00a0\u00a0\u00a0\u00a0\u00a0\u00a0\u00a0\u00a0\u00a0\u00a0Lugar",
"anchor":"start","frame":"group","dx":-95,"font":"Liberation Sans","fontSize":12,"fontWeight":"normal","color":"#0000ff","subtitleFont":"Liberation Sans","subtitleFontSize":12,"subtitleColor":"#ff0000","subtitlePadding":8,"offset":29},
"facet":{"row":{"field":"s","type":"nominal","header":null,"sort":["SUN1","SUN2","SUN3","SUN4","SUN5","SUN6","SUN7","SUN8","SUN9","SUNL"]}},
"spacing":{"row":0},
"spec":{
"width":465,"height":27,
"layer":[
{"transform":[{"filter":"datum.k === 'e'"}],
"mark":{"type":"area","color":"#0000ff","orient":"vertical"},
"encoding":{
"x":{"field":"t","type":"quantitative","scale":{"domain":[0,60],"nice":false},
"axis":{"orient":"bottom","offset":22,"values":[0,5,10,15,20,25,30,35,40,45,50,55,60],"domain":true,"ticks":true,"tickSize":-8,"tickColor":"black","tickWidth":1,"domainColor":"black","domainWidth":1,"domainOpacity":1,"grid":false,"title":null,
"labelExpr":"datum.value % 10 === 0 ? ['15:59','16:09','16:19','16:29','16:39','16:49','16:59'][datum.value/10] : ''",
"labelFont":"DejaVu Sans Mono","labelFontSize":{"condition":{"test":"datum.value % 30 === 0","value":12},"value":8},"labelColor":"black","labelBaseline":"top","labelPadding":11,"labelOverlap":false,"labelFlush":false}},
"y":{"field":"hi","type":"quantitative","scale":{"domain":[-13.5,13.5],"nice":false,"zero":false},"axis":null},
"y2":{"field":"lo"}}},
{"transform":[{"filter":"datum.k === 'p'"}],
"mark":{"type":"rule","color":"#0000ff","strokeWidth":2},
"encoding":{"x":{"field":"t","type":"quantitative"},"y":{"field":"lo","type":"quantitative","axis":null},"y2":{"field":"hi"}}},
{"transform":[{"filter":"datum.k === 'f'"}],
"mark":{"type":"line","color":"#ff0000","strokeWidth":1},
"encoding":{"x":{"field":"t","type":"quantitative"},"y":{"field":"hi","type":"quantitative","axis":null}}},
{"transform":[{"filter":"datum.t === 0 && datum.k !== 'p'"}],
"mark":{"type":"text","text":"[","align":"left","baseline":"middle","dx":-95,"font":"DejaVu Sans","fontSize":11,"color":"black"},
"encoding":{"x":{"datum":0,"type":"quantitative"},"y":{"datum":0,"type":"quantitative","axis":null}}},
{"transform":[{"filter":"datum.t === 0 && datum.k !== 'p'"}],
"mark":{"type":"text","align":"left","baseline":"middle","dx":-82,"font":"DejaVu Sans","fontSize":11,"color":"black"},
"encoding":{"x":{"datum":0,"type":"quantitative"},"y":{"datum":0,"type":"quantitative","axis":null},"text":{"field":"lab"}}},
{"transform":[{"filter":"datum.t === 0 && datum.k !== 'p'"}],
"mark":{"type":"text","align":"left","baseline":"middle","dx":12,"font":"DejaVu Sans","fontSize":11,"color":"black"},
"encoding":{"x":{"datum":60,"type":"quantitative"},"y":{"datum":0,"type":"quantitative","axis":null},"text":{"field":"lugar"}}}
]}
}],
"config":{"view":{"stroke":null},"font":"DejaVu Sans"}
}
